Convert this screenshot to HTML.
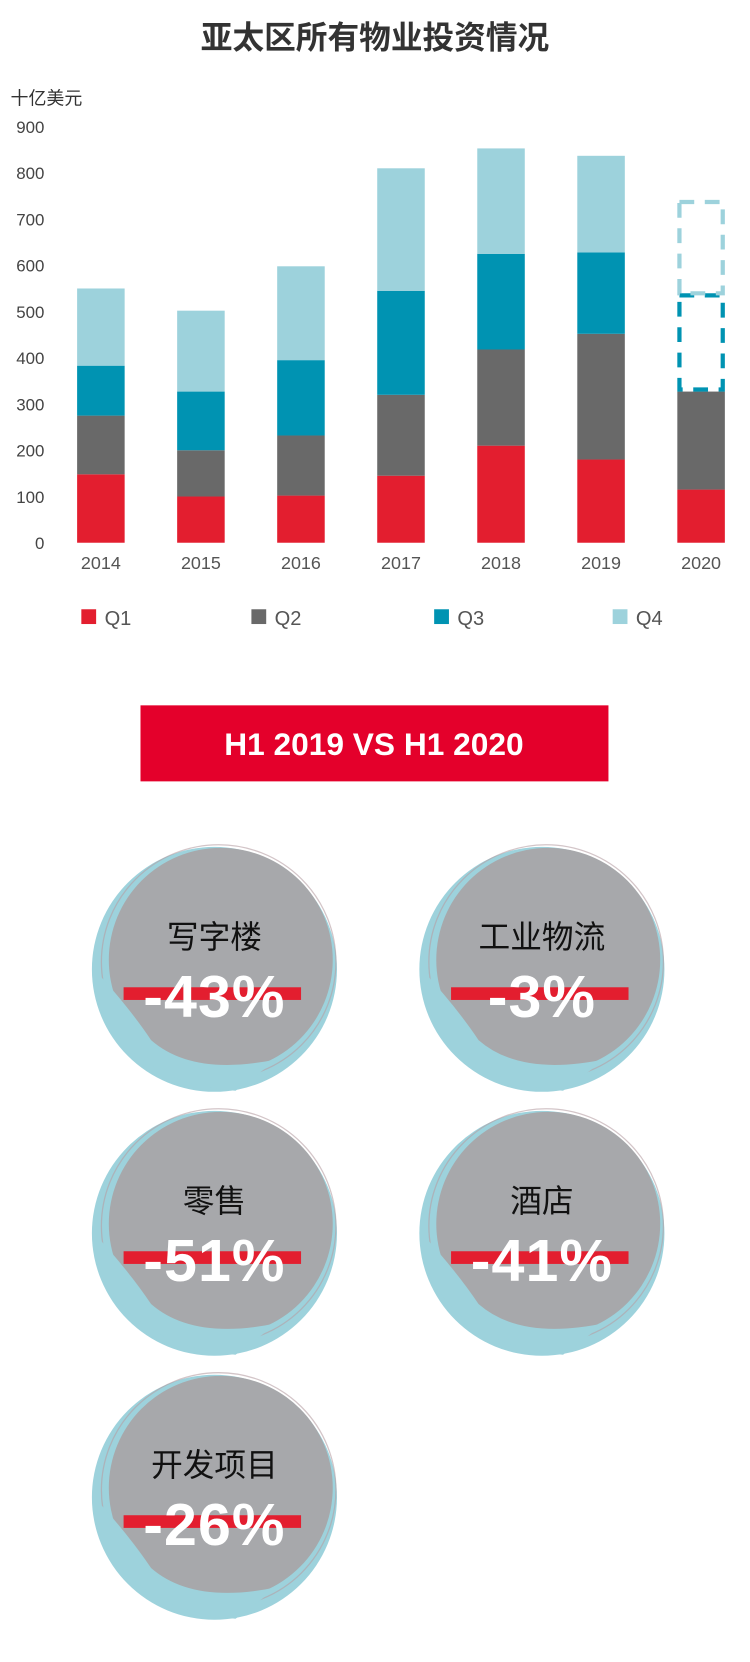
<!DOCTYPE html>
<html><head><meta charset="utf-8">
<style>
body{margin:0;width:750px;height:1662px;background:#fff;overflow:hidden;font-family:"Liberation Sans","Noto Sans CJK SC",sans-serif;}
svg{display:block}
</style></head>
<body>
<svg width="750" height="1662" viewBox="0 0 710 1574" preserveAspectRatio="none">
<text x="355" y="46" text-anchor="middle" font-size="30" font-weight="bold" fill="#333" font-family="Liberation Sans, Noto Sans CJK SC, sans-serif">亚太区所有物业投资情况</text>
<text x="10" y="99" font-size="17" fill="#333" font-family="Liberation Sans, Noto Sans CJK SC, sans-serif">十亿美元</text>
<g id="chart"></g>
<g id="legend"></g>
<rect x="133" y="668" width="443" height="72" fill="#e4002b"/>
<text x="354" y="715" text-anchor="middle" font-size="30" font-weight="bold" fill="#fff">H1 2019 VS H1 2020</text>
<g id="circles"></g>
</svg>
<script>
const years=["2014","2015","2016","2017","2018","2019","2020"];
const q1=[148,100,102,145,210,180,115];
const q2=[127,100,130,175,208,272,212];
const q3=[108,127,163,225,207,176,208];
const q4=[167,175,203,265,228,209,202];
const dashedFrom=6; // 2020 Q3/Q4 are forecasts
const yTicks=[0,100,200,300,400,500,600,700,800,900];
const seriesNames=["Q1","Q2","Q3","Q4"];
const colors=["#e31e2f","#696969","#0093b2","#9dd2dc"];
const NS="http://www.w3.org/2000/svg";
const base=514, ppu=0.4378, x0=73, step=94.7, bw=45;
const yS=v=>base-v*ppu, xS=i=>x0+i*step;
const chart=document.getElementById('chart');
function mk(tag,attrs,parent){const e=document.createElementNS(NS,tag);for(const k in attrs)e.setAttribute(k,attrs[k]);parent.appendChild(e);return e;}
yTicks.forEach(t=>{const e=mk('text',{x:42,y:yS(t)+6,'text-anchor':'end','font-size':16,fill:'#444'},chart);


e.textContent=t;});
const series=[q1,q2,q3,q4];
years.forEach((yr,i)=>{let cum=0;
series.forEach((s,k)=>{const v=s[i];const top=cum+v;
if(i>=dashedFrom&&k>=2){const r=mk('rect',{x:xS(i)+2,y:yS(top),width:bw-4,height:v*ppu-2,fill:'none',stroke:colors[k],'stroke-width':4,'stroke-dasharray':'14 10'},chart);

}
else{const r=mk('rect',{x:xS(i),y:yS(top),width:bw,height:v*ppu,fill:colors[k]},chart);

}
cum=top;});
const t=mk('text',{x:xS(i)+bw/2,y:539,'text-anchor':'middle','font-size':17,fill:'#555'},chart);


t.textContent=yr;});
const lg=document.getElementById('legend');const lx=[77,238,411,580];
seriesNames.forEach((n,k)=>{const r=mk('rect',{x:lx[k],y:577,width:14,height:14,fill:colors[k]},lg);


const t=mk('text',{x:lx[k]+22,y:592,'font-size':19,fill:'#555'},lg);


t.textContent=n;});
const cdata=[["写字楼","-43%",203,915],["工业物流","-3%",513,915],["零售","-51%",203,1165],["酒店","-41%",513,1165],["开发项目","-26%",203,1415]];
const cg=document.getElementById('circles');
cdata.forEach(([lab,pct,cx,cy])=>{const g=mk('g',{},cg);


mk('circle',{cx:cx,cy:cy+3,r:116,fill:'#9dd2dc'},g);
mk('circle',{cx:cx+6,cy:cy-6,r:106,fill:'#a7a8ab'},g);
mk('circle',{cx:cx+4,cy:cy-4,r:111,fill:'none',stroke:'#b59ea3','stroke-width':1.2,opacity:.6},g);
mk('path',{d:`M${cx-112} ${cy+5} Q${cx-80} ${cy+40} ${cx-60} ${cy+70} Q${cx-20} ${cy+105} ${cx+60} ${cy+88} L${cx+20} ${cy+118} Q${cx-80} ${cy+110} ${cx-112} ${cy+30}Z`,fill:'#9dd2dc'},g);
mk('rect',{x:cx-86,y:cy+20,width:168,height:12,fill:'#e31e2f'},g);
const t1=mk('text',{x:cx,y:cy-17,'text-anchor':'middle','font-size':30,fill:'#111','font-family':'Liberation Sans, Noto Sans CJK SC, sans-serif'},g);


t1.textContent=lab;
const t2=mk('text',{x:cx,y:cy+48,'text-anchor':'middle','font-size':56,'font-weight':'bold',fill:'#fff','letter-spacing':'1'},g);


t2.textContent=pct;});
</script>
</body></html>
